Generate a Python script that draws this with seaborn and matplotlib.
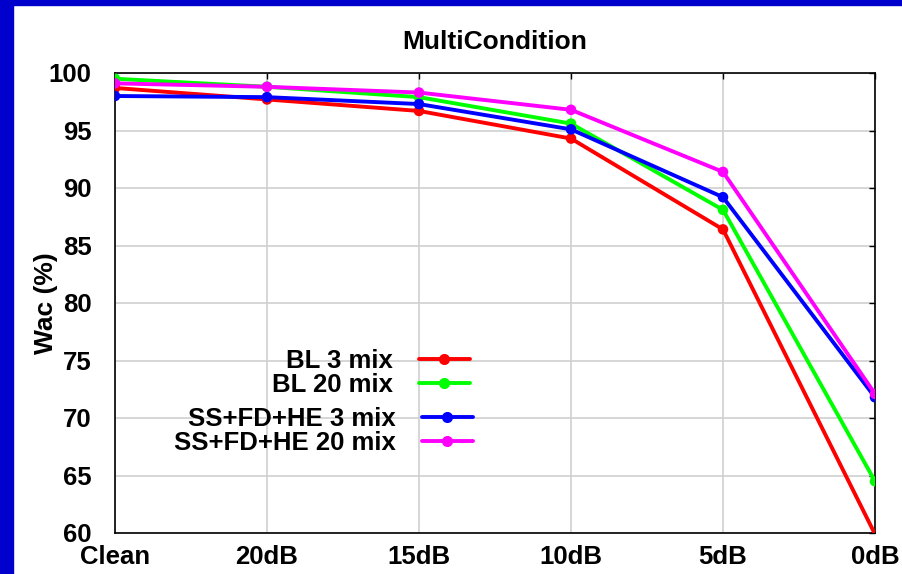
import matplotlib
matplotlib.use("Agg")
import matplotlib.pyplot as plt
from matplotlib.lines import Line2D
from matplotlib.patches import Rectangle
import seaborn as sns
import pandas as pd

# Word accuracy per noise condition
conditions = ["Clean", "20dB", "15dB", "10dB", "5dB", "0dB"]
bl_3mix = [98.7, 97.7, 96.7, 94.3, 86.4, 59.9]
bl_20mix = [99.5, 98.8, 97.9, 95.6, 88.1, 64.5]
ss_3mix = [98.0, 97.9, 97.3, 95.1, 89.2, 71.8]
ss_20mix = [99.1, 98.8, 98.3, 96.8, 91.4, 72.1]

series_names = ["BL 3 mix", "BL 20 mix", "SS+FD+HE 3 mix", "SS+FD+HE 20 mix"]
series_values = [bl_3mix, bl_20mix, ss_3mix, ss_20mix]
colors = ["#ff0000", "#00ff00", "#0000ff", "#ff00ff"]
y_ticks = [60, 65, 70, 75, 80, 85, 90, 95, 100]

rows = []
for name, vals in zip(series_names, series_values):
    for i, (c, v) in enumerate(zip(conditions, vals)):
        rows.append({"series": name, "pos": i, "condition": c, "wac": v})
df = pd.DataFrame(rows)

sns.set_style("white")
plt.rcParams["font.family"] = ["Liberation Sans", "DejaVu Sans"]
plt.rcParams["font.weight"] = "bold"
for key in ["text.color", "axes.labelcolor", "xtick.color", "ytick.color"]:
    plt.rcParams[key] = "black"

fig = plt.figure(figsize=(9.02, 5.74), dpi=100)
# blue frame along the left and top edges
fig.patches.append(Rectangle((0, 0), 13 / 902, 1, transform=fig.transFigure,
                             color="#0000cc", zorder=0))
fig.patches.append(Rectangle((0, 1 - 5 / 574), 1, 5 / 574, transform=fig.transFigure,
                             color="#0000cc", zorder=0))

ax = fig.add_axes([115 / 902, 1 - 533 / 574, 760 / 902, 460 / 574])
palette = dict(zip(series_names, colors))

sns.lineplot(data=df, x="pos", y="wac", hue="series", palette=palette,
             hue_order=series_names, sort=False, linewidth=2.8, legend=False,
             ax=ax, zorder=3)
# points outside the plotted range are not marked
visible = df[(df["wac"] >= 60) & (df["wac"] <= 100)]
sns.scatterplot(data=visible, x="pos", y="wac", hue="series", palette=palette,
                hue_order=series_names, s=58, linewidth=0, legend=False,
                ax=ax, zorder=4)

ax.set_xlim(0, len(conditions) - 1)
ax.set_ylim(60, 100)
ax.set_xticks(range(len(conditions)))
ax.set_xticklabels(conditions)
ax.set_yticks(y_ticks)
ax.grid(True, color="#d0d0d0", linewidth=1.2, zorder=0)
ax.set_axisbelow(True)
for sp in ax.spines.values():
    sp.set_color("black")
    sp.set_linewidth(1.2)
ax.tick_params(axis="both", direction="in", length=4, width=1, top=True, right=True,
               labelsize=18.5, colors="black")
ax.tick_params(axis="y", pad=17)
ax.tick_params(axis="x", pad=9)
for lab in ax.get_xticklabels() + ax.get_yticklabels():
    lab.set_fontweight("bold")

ax.set_xlabel("")
ax.set_ylabel("Wac (%)", fontsize=19, fontweight="bold")
ax.yaxis.set_label_coords(-0.075, 0.5)
ax.set_title("MultiCondition", fontsize=19, fontweight="bold", pad=17)

handles = [Line2D([], [], color=c, linewidth=2.8, marker="o", markersize=8,
                  markeredgewidth=0) for c in colors]

leg_kw = dict(frameon=False, markerfirst=False, prop={"weight": "bold", "size": 18.5},
              handlelength=2.0, handletextpad=1.0, labelspacing=0.0,
              borderpad=0, borderaxespad=0, loc="center right")
leg1 = fig.legend(handles[:2], series_names[:2],
                  bbox_to_anchor=(470 / 902, 1 - 373 / 574), **leg_kw)
leg2 = fig.legend(handles[2:], series_names[2:],
                  bbox_to_anchor=(473 / 902, 1 - 431 / 574), **leg_kw)

fig.savefig("out.png", dpi=100)
